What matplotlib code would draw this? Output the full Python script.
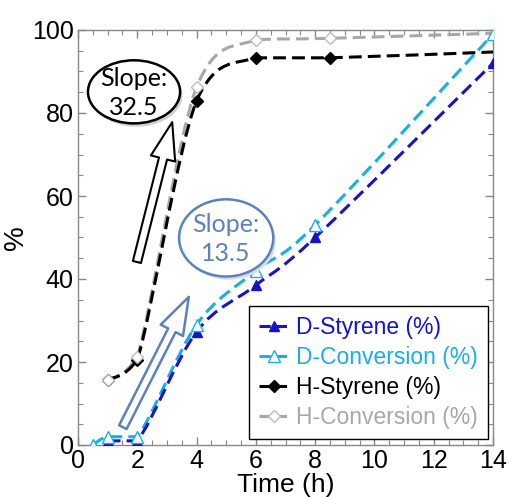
import numpy as np
import matplotlib
matplotlib.use("Agg")
import matplotlib.pyplot as plt
from matplotlib.path import Path
from matplotlib.patches import PathPatch, Ellipse, FancyArrowPatch
from matplotlib.lines import Line2D

plt.rcParams['font.family'] = ['Liberation Sans', 'DejaVu Sans']

# ---- data ----
d_sty_t = [1, 2, 4, 6, 8, 14]
d_sty_v = [1.0, 1.0, 27.3, 38.5, 50.0, 92.0]
d_conv_t = [0.5, 1, 2, 4, 6, 8, 14]
d_conv_v = [0.0, 2.0, 2.0, 29.0, 42.0, 53.0, 99.0]
h_sty_t = [1, 2, 4, 6, 8.5, 14]
h_sty_v = [15.7, 20.5, 83.0, 93.3, 93.3, 94.7]
h_conv_t = [1, 2, 4, 6, 8.5, 14]
h_conv_v = [15.7, 21.3, 86.3, 97.6, 98.0, 99.2]

series_labels = ['D-Styrene (%)', 'D-Conversion (%)', 'H-Styrene (%)', 'H-Conversion (%)']
colors = ['#1414CC', '#1AAEE6', '#000000', '#A8A8A8']
x_ticks = [0, 2, 4, 6, 8, 10, 12, 14]
y_ticks = [0, 20, 40, 60, 80, 100]

fig = plt.figure(figsize=(5.09, 4.97), dpi=100)
ax = fig.add_axes([78/509, 52/497, 415/509, 415/497])


def smooth_path(xs, ys, tension=0.5):
    xs = np.asarray(xs, float); ys = np.asarray(ys, float)
    n = len(xs)
    verts = [(xs[0], ys[0])]
    codes = [Path.MOVETO]
    for i in range(n - 1):
        p0 = np.array([xs[max(i - 1, 0)], ys[max(i - 1, 0)]])
        p1 = np.array([xs[i], ys[i]])
        p2 = np.array([xs[i + 1], ys[i + 1]])
        p3 = np.array([xs[min(i + 2, n - 1)], ys[min(i + 2, n - 1)]])
        c1 = p1 + (p2 - p0) * tension / 3.0
        c2 = p2 - (p3 - p1) * tension / 3.0
        lo, hi = min(p1[1], p2[1]), max(p1[1], p2[1])
        c1[1] = np.clip(c1[1], lo, hi)
        c2[1] = np.clip(c2[1], lo, hi)
        verts += [tuple(c1), tuple(c2), tuple(p2)]
        codes += [Path.CURVE4] * 3
    return Path(verts, codes)


lw = 2.2
dash = (0, (4.2, 2.0))
for (t, v, c, z) in [(h_conv_t, h_conv_v, colors[3], 2), (h_sty_t, h_sty_v, colors[2], 3),
                     (d_conv_t, d_conv_v, colors[1], 2), (d_sty_t, d_sty_v, colors[0], 3)]:
    pp = PathPatch(smooth_path(t, v), facecolor='none', edgecolor=c, lw=lw,
                   linestyle=dash, zorder=z, capstyle='butt')
    ax.add_patch(pp)

ms = 7
ax.plot(d_sty_t, d_sty_v, ls='none', marker='^', ms=ms, mfc=colors[0], mec=colors[0], zorder=5)
ax.plot(d_conv_t, d_conv_v, ls='none', marker='^', ms=ms + 1, mfc='white', mec=colors[1], mew=1.0, zorder=5)
ax.plot(h_sty_t[:-1], h_sty_v[:-1], ls='none', marker='D', ms=ms - 0.5, mfc='black', mec='black', zorder=5)
ax.plot(h_conv_t[:-1], h_conv_v[:-1], ls='none', marker='D', ms=ms - 0.5, mfc='white', mec='#BDBDBD', mew=1.0, zorder=5)

ax.set_xlim(0, 14)
ax.set_ylim(0, 100)
ax.set_xticks(x_ticks)
ax.set_yticks(y_ticks)
ax.set_xticks(np.arange(0, 14.01, 0.5), minor=True)
ax.set_yticks(np.arange(0, 100.1, 5), minor=True)
ax.tick_params(which='both', direction='in', top=True, right=True, colors='#888888',
               labelcolor='black', labelsize=18, pad=3)
ax.tick_params(which='major', length=6, width=1)
ax.tick_params(which='minor', length=3.5, width=0.8)
for s in ax.spines.values():
    s.set_color('#888888')
    s.set_linewidth(1.0)
ax.set_xlabel('Time (h)', fontsize=19, labelpad=0)
ax.set_ylabel('%', fontsize=20, labelpad=2)

handles = [
    Line2D([], [], color=colors[0], ls='--', lw=lw, marker='^', ms=ms, mfc=colors[0], mec=colors[0]),
    Line2D([], [], color=colors[1], ls='--', lw=lw, marker='^', ms=ms + 1, mfc='white', mec=colors[1]),
    Line2D([], [], color=colors[2], ls='--', lw=lw, marker='D', ms=ms - 0.5, mfc='black', mec='black'),
    Line2D([], [], color=colors[3], ls='--', lw=lw, marker='D', ms=ms - 0.5, mfc='white', mec='#BDBDBD'),
]
leg = ax.legend(handles, series_labels, loc='lower right', bbox_to_anchor=(0.988, 0.0145),
                borderaxespad=0, fontsize=16.5, fancybox=False, framealpha=1, edgecolor='black',
                handlelength=1.25, handletextpad=0.35, labelspacing=0.3, borderpad=0.45)
leg.get_frame().set_linewidth(1.0)
for txt, c in zip(leg.get_texts(), colors):
    txt.set_color(c)

# ---- annotations ----
tA = ax.transAxes
ann_font = ['Lato', 'DejaVu Sans']
ax.add_patch(Ellipse((0.141, 0.843), 0.222, 0.152, transform=tA, fc='#D0D0D0', ec='none', zorder=6, clip_on=False))
ax.add_patch(Ellipse((0.135, 0.851), 0.222, 0.152, transform=tA, fc='white', ec='black', lw=1.8, zorder=7, clip_on=False))
ax.text(0.135, 0.849, 'Slope:\n32.5', transform=tA, ha='center', va='center', fontsize=18,
        family=ann_font, color='black', linespacing=1.3, zorder=8)

ax.add_patch(Ellipse((0.363, 0.491), 0.227, 0.186, transform=tA, fc='#D8DDE6', ec='none', zorder=6))
ax.add_patch(Ellipse((0.357, 0.499), 0.227, 0.186, transform=tA, fc='white', ec='#5B82BC', lw=1.8, zorder=7))
ax.text(0.357, 0.497, 'Slope:\n13.5', transform=tA, ha='center', va='center', fontsize=18,
        family=ann_font, color='#5B82BC', linespacing=1.3, zorder=8)

style = "simple,head_width=1.8,head_length=2.7,tail_width=0.6"
ax.add_patch(FancyArrowPatch((0.142, 0.441), (0.227, 0.778), transform=tA, arrowstyle=style,
                             mutation_scale=10, fc='white', ec='black', lw=1.5, zorder=7,
                             shrinkA=0, shrinkB=0))
ax.add_patch(FancyArrowPatch((0.108, 0.043), (0.267, 0.357), transform=tA, arrowstyle=style,
                             mutation_scale=10, fc='white', ec='#5B82BC', lw=1.8, zorder=7,
                             shrinkA=0, shrinkB=0))

fig.savefig('out.png', dpi=100)
